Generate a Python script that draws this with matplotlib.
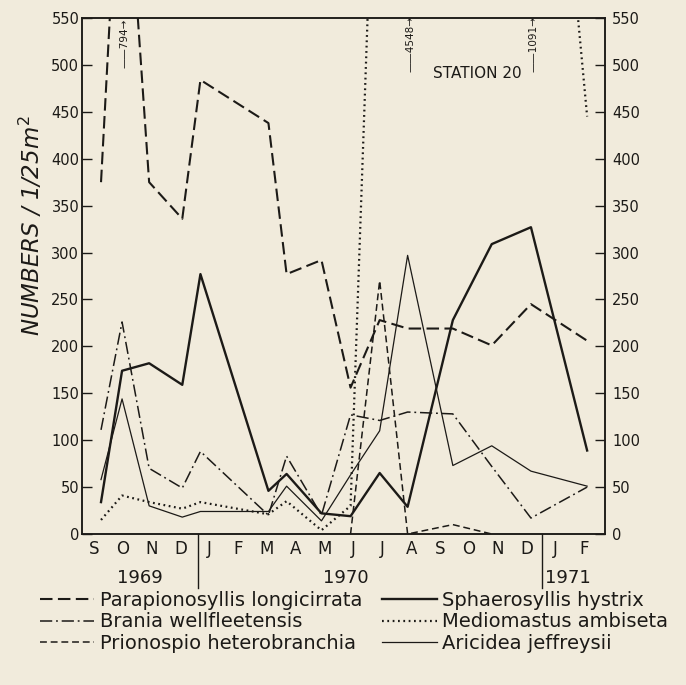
import numpy as np
import matplotlib
matplotlib.use("Agg")
import matplotlib.pyplot as plt
from matplotlib.lines import Line2D
import matplotlib.transforms as mtransforms

# ---- data ----
month_labels = ["S", "O", "N", "D", "J", "F", "M", "A", "M", "J", "J", "A", "S", "O", "N", "D", "J", "F"]
year_labels = ["1969", "1970", "1971"]
year_centers = [1.6, 8.73, 16.45]
year_dividers = [3.62, 15.54]

# sampling dates, in months after mid-September 1969
sample_months = [0.24, 0.97, 1.91, 3.06, 3.69, 6.05, 6.68, 7.89, 8.90, 9.91, 10.88, 12.45, 13.80, 15.16, 17.11]

nan = np.nan
parapionosyllis = [375, 794, 375, 336, 484, 438, 277, 292, 156, 228, 219, 219, 201, 245, 206]
brania = [111, 226, 70, 49, 88, 20, 83, 20, 127, 121, 130, 128, 72, 17, 50]
prionospio = [nan, nan, nan, nan, nan, nan, nan, nan, 0, 270, 0, 10, 0, nan, nan]
sphaerosyllis = [34, 174, 182, 159, 277, 46, 64, 22, 19, 65, 29, 228, 309, 327, 89]
mediomastus = [15, 41, 34, 27, 34, 21, 35, 4, 30, 920, 4548, nan, nan, 1091, 445]
aricidea = [58, 144, 30, 18, 24, 24, 51, 14, 63, 110, 297, 73, 94, 67, 51]

off_scale = [("794", 1), ("4548", 10), ("1091", 13)]

# ---- style ----
bg = "#f1ebdc"
ink = "#1c1a17"
plt.rcParams["font.family"] = ["DejaVu Sans"]

fig = plt.figure(figsize=(6.86, 6.85), dpi=100, facecolor=bg)
ax = fig.add_axes([82 / 686, 1 - 534 / 685, 523 / 686, 516 / 685])
ax.set_facecolor(bg)

styles = {
    "Parapionosyllis longicirrata": dict(lw=1.5, dashes=(6, 2.6), color=ink),
    "Brania wellfleetensis": dict(lw=1.1, dashes=(8, 2.5, 1.2, 2.5), color=ink),
    "Prionospio heterobranchia": dict(lw=1.1, dashes=(4.5, 2.5), color=ink),
    "Sphaerosyllis hystrix": dict(lw=1.7, linestyle="-", color=ink),
    "Mediomastus ambiseta": dict(lw=1.6, dashes=(0.8, 1.6), color=ink),
    "Aricidea jeffreysii": dict(lw=0.9, linestyle="-", color=ink),
}
series = {
    "Parapionosyllis longicirrata": parapionosyllis,
    "Brania wellfleetensis": brania,
    "Prionospio heterobranchia": prionospio,
    "Sphaerosyllis hystrix": sphaerosyllis,
    "Mediomastus ambiseta": mediomastus,
    "Aricidea jeffreysii": aricidea,
}

x = np.array(sample_months)
handles = []
for name, vals in series.items():
    v = np.array(vals, dtype=float)
    st = styles[name]
    ax.plot(x, v, **st)
    handles.append(Line2D([0], [0], **st))

ax.set_xlim(-0.42, 17.73)
ax.set_ylim(0, 550)
yt = np.arange(0, 551, 50)
ax.set_yticks(yt)
ax.set_yticklabels([str(t) for t in yt])
ax.tick_params(axis="y", direction="in", length=7.5, width=1, left=True, right=False,
               labelsize=10.5, colors=ink, pad=2)
ax.set_xticks(range(len(month_labels)))
ax.set_xticklabels(month_labels)
ax.tick_params(axis="x", length=0, labelsize=12, colors=ink, pad=4.5)
for s in ax.spines.values():
    s.set_color(ink)
    s.set_linewidth(1.1)

ax2 = ax.twinx()
ax2.set_ylim(0, 550)
ax2.set_yticks(yt)
ax2.set_yticklabels([str(t) for t in yt])
ax2.tick_params(axis="y", direction="in", length=7.5, width=1, labelsize=10.5, colors=ink, pad=5)
for s in ax2.spines.values():
    s.set_color(ink)
    s.set_linewidth(1.1)

trans = mtransforms.blended_transform_factory(ax.transData, ax.transAxes)
for xd in year_dividers:
    ax.plot([xd, xd], [0, -0.105], transform=trans, color=ink, lw=1.0, clip_on=False)
for lab, xc in zip(year_labels, year_centers):
    ax.text(xc, -0.085, lab, transform=trans, ha="center", va="center", fontsize=13, color=ink)

# off-scale value labels
for lab, idx in off_scale:
    ax.text(sample_months[idx] + 0.1, 0.95, "\u2014\u2014" + lab + "\u2192", transform=trans, rotation=90,
            ha="center", va="center", fontsize=7.5, color=ink)

ax.text(0.755, 0.893, "STATION 20", transform=ax.transAxes, ha="center", va="center",
        fontsize=11, color=ink)

fig.text(31 / 686, 1 - 226 / 685, "NUMBERS / 1/25$\\mathit{m}^2$", rotation=90,
         ha="center", va="center", fontsize=16.5, style="italic", color=ink)

leg = fig.legend(handles, list(series.keys()), ncol=2, loc="upper left",
                 bbox_to_anchor=(40 / 686, 1 - 591 / 685), frameon=False,
                 fontsize=14, handlelength=2.8, handletextpad=0.3, columnspacing=1.0,
                 labelspacing=0.12, borderaxespad=0, borderpad=0)
for t in leg.get_texts():
    t.set_color(ink)

fig.savefig("out.png", dpi=100, facecolor=bg)
